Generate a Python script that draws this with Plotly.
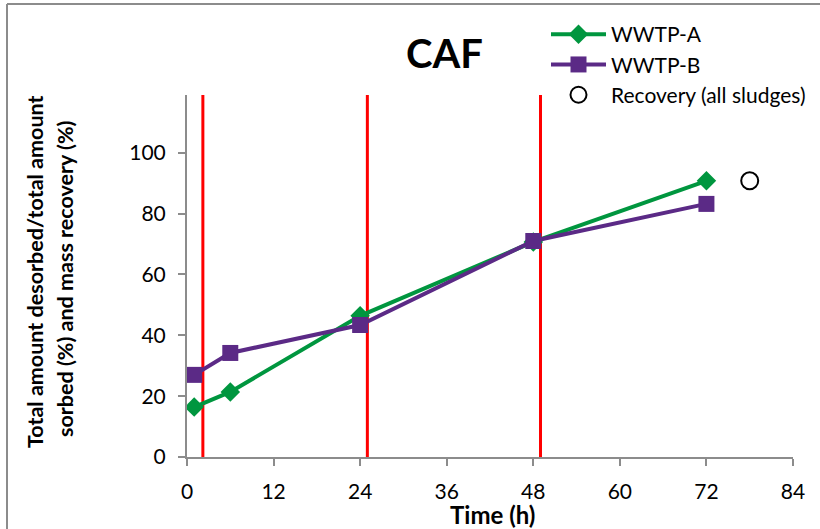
import plotly.graph_objects as go

# Data
time_a = [1, 6, 24, 48, 72]
wwtp_a = [16.4, 21.4, 46.4, 70.7, 90.8]
time_b = [1, 6, 24, 48, 72]
wwtp_b = [27.0, 34.2, 43.4, 71.0, 83.2]
rec_time = [78]
recovery = [90.8]
stage_times = [2.2, 25.0, 49.0]
x_ticks = [0, 12, 24, 36, 48, 60, 72, 84]
y_ticks = [0, 20, 40, 60, 80, 100]

FONT = "Lato"
GREEN = "#00963F"
PURPLE = "#5B2A86"
L, R, T, B = 187, 27, 95, 72
PW, PH = 820 - L - R, 529 - T - B


def px(x):
    return (x - L) / PW


def py(y):
    return (529 - B - y) / PH


fig = go.Figure()

for t in stage_times:
    fig.add_shape(type="line", xref="x", yref="paper", x0=t, x1=t, y0=0, y1=1,
                  line=dict(color="#FF0000", width=3), layer="below")

fig.add_trace(go.Scatter(x=time_a, y=wwtp_a, mode="lines+markers", name="WWTP-A",
                         line=dict(color=GREEN, width=4),
                         marker=dict(symbol="diamond", size=15, color=GREEN)))
fig.add_trace(go.Scatter(x=time_b, y=wwtp_b, mode="lines+markers", name="WWTP-B",
                         line=dict(color=PURPLE, width=4),
                         marker=dict(symbol="square", size=16, color=PURPLE)))
fig.add_trace(go.Scatter(x=rec_time, y=recovery, mode="markers", name="Recovery (all sludges)",
                         marker=dict(symbol="circle-open", size=17, color="black",
                                     line=dict(width=2, color="black"))))

# outer chart border (left and top visible)
fig.add_shape(type="line", xref="paper", yref="paper", x0=px(7), x1=px(900), y0=py(4), y1=py(4),
              line=dict(color="#8C8C8C", width=2))
fig.add_shape(type="line", xref="paper", yref="paper", x0=px(7), x1=px(7), y0=py(4), y1=py(600),
              line=dict(color="#8C8C8C", width=2))

ann = dict(xref="paper", yref="paper", showarrow=False, xanchor="center", yanchor="middle")
fig.add_annotation(text="<b>CAF</b>", x=px(444), y=py(53),
                   font=dict(family=FONT, size=40, color="black"), **ann)
fig.add_annotation(text="<b>Time (h)</b>", x=px(492), y=py(514),
                   font=dict(family=FONT, size=24, color="black"), **ann)
fig.add_annotation(text="<b>Total amount desorbed/total amount</b>",
                   x=px(35), y=py(272), textangle=-90,
                   font=dict(family=FONT, size=21.5, color="black"), **ann)
fig.add_annotation(text="<b>sorbed (%) and mass recovery (%)</b>",
                   x=px(65), y=py(279), textangle=-90,
                   font=dict(family=FONT, size=21.5, color="black"), **ann)

fig.update_layout(
    width=820, height=529,
    margin=dict(l=L, r=R, t=T, b=B, autoexpand=False),
    paper_bgcolor="white", plot_bgcolor="white",
    font=dict(family=FONT, size=21, color="black"),
    showlegend=True,
    legend=dict(x=px(546), y=py(14), xanchor="left", yanchor="top",
                font=dict(family=FONT, size=21, color="black"),
                itemwidth=55, tracegroupgap=0, bgcolor="rgba(0,0,0,0)"),
    xaxis=dict(range=[0, 84], tickvals=x_ticks, showgrid=False, zeroline=False,
               showline=True, linecolor="#8C8C8C", linewidth=2,
               ticks="outside", ticklen=7, tickcolor="#8C8C8C", tickwidth=2,
               tickfont=dict(family=FONT, size=21), ticklabelstandoff=8),
    yaxis=dict(range=[0, 119], tickvals=y_ticks, showgrid=False, zeroline=False,
               showline=True, linecolor="#8C8C8C", linewidth=2,
               ticks="outside", ticklen=7, tickcolor="#8C8C8C", tickwidth=2,
               tickfont=dict(family=FONT, size=21), ticklabelstandoff=8),
)

fig.write_html("out.html")
